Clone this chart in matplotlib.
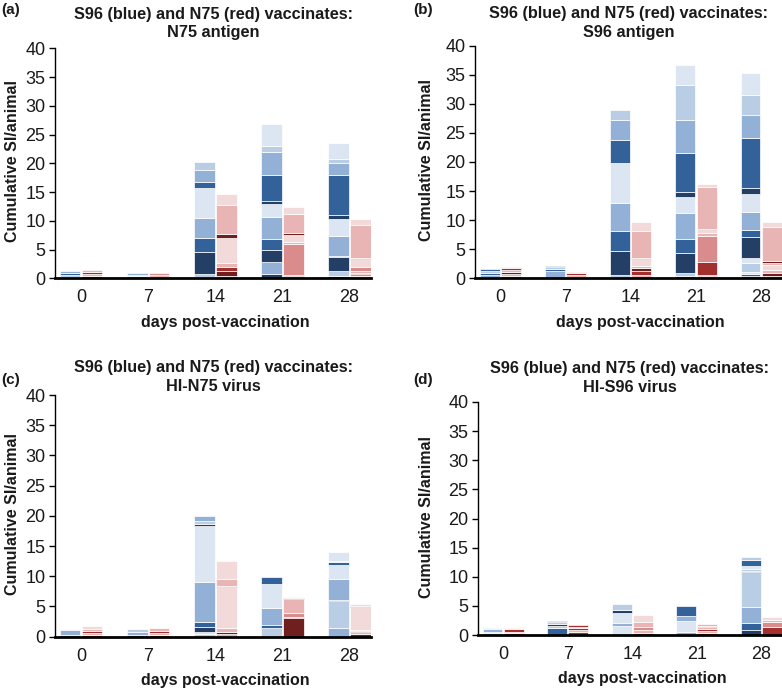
import matplotlib
matplotlib.use("Agg")
import matplotlib.pyplot as plt

plt.rcParams['font.family'] = ['Liberation Sans', 'DejaVu Sans']

days = ["0", "7", "14", "21", "28"]
y_ticks = [0, 5, 10, 15, 20, 25, 30, 35, 40]
panel_labels = ["(a)", "(b)", "(c)", "(d)"]
title_line1 = "S96 (blue) and N75 (red) vaccinates:"
title_line2 = ["N75 antigen", "S96 antigen", "HI-N75 virus", "HI-S96 virus"]
x_label = "days post-vaccination"
y_label = "Cumulative SI/animal"

# segment heights (bottom -> top) per day; shade index 0 = darkest ... 4 = lightest
a_blue = [[0.3, 0.3, 0.3, 0.3], [0.35, 0.3, 0.35],
          [0.3, 0.4, 3.8, 2.5, 3.4, 5.3, 1.1, 2.0, 1.4],
          [0.8, 2.1, 2.1, 1.8, 3.8, 2.4, 0.4, 4.5, 4.0, 1.1, 3.8],
          [0.4, 0.95, 2.35, 0.2, 3.5, 2.9, 0.7, 7.0, 2.0, 0.75, 2.75]]
a_blue_shade = [[1, 3, 1, 2], [2, 3, 2],
                [0, 3, 0, 1, 2, 4, 1, 2, 3],
                [0, 2, 0, 1, 2, 4, 0, 1, 2, 3, 4],
                [0, 3, 0, 1, 2, 4, 0, 1, 2, 3, 4]]
a_red = [[0.4, 0.35, 0.4, 0.35], [0.3, 0.35, 0.35],
         [0.4, 0.9, 0.6, 0.7, 4.4, 0.7, 5.05, 1.95],
         [0.35, 0.25, 5.4, 0.3, 1.3, 0.2, 3.4, 1.15],
         [0.4, 0.35, 0.15, 0.3, 0.7, 1.5, 0.15, 5.75, 1.0]]
a_red_shade = [[1, 3, 1, 3], [2, 3, 2],
               [3, 0, 1, 3, 4, 0, 3, 4],
               [3, 0, 2, 3, 4, 0, 3, 4],
               [3, 2, 0, 3, 2, 4, 0, 3, 4]]

b_blue = [[0.3, 0.35, 0.3, 0.3, 0.3], [1.3, 0.3, 0.3, 0.3],
          [0.6, 4.15, 3.35, 4.8, 7.0, 3.9, 3.4, 1.7],
          [0.4, 0.45, 3.55, 2.3, 4.6, 2.7, 0.8, 6.7, 5.7, 6.1, 3.4],
          [0.4, 0.3, 0.45, 1.45, 0.95, 3.6, 1.15, 3.15, 3.05, 1.1, 8.6, 3.9, 3.5, 3.65]]
b_blue_shade = [[1, 2, 1, 3, 1], [2, 1, 3, 1],
                [3, 0, 1, 2, 4, 1, 2, 3],
                [0, 3, 0, 1, 2, 4, 0, 1, 2, 3, 4],
                [0, 1, 4, 3, 4, 0, 1, 2, 4, 0, 1, 2, 3, 4]]
b_red = [[0.35, 0.35, 0.4, 0.35, 0.3, 0.25], [0.3, 0.3, 0.25, 0.3],
         [0.5, 0.7, 0.6, 0.4, 1.1, 0.2, 4.65, 1.45],
         [0.4, 0.2, 2.25, 4.45, 0.55, 0.5, 0.2, 7.1, 0.55],
         [0.4, 0.45, 0.55, 0.9, 0.4, 0.25, 5.95, 0.7]]
b_red_shade = [[1, 3, 0, 3, 1, 3], [1, 3, 1, 3],
               [3, 1, 0, 3, 4, 0, 3, 4],
               [3, 0, 1, 2, 3, 4, 0, 3, 4],
               [3, 0, 3, 4, 3, 0, 3, 4]]

c_blue = [[0.25, 0.85], [0.3, 0.45, 0.5],
          [0.4, 0.45, 0.7, 0.85, 6.65, 9.25, 0.3, 0.6, 0.7],
          [1.4, 0.55, 2.75, 4.1, 1.1],
          [1.5, 4.45, 0.2, 3.35, 2.4, 0.5, 0.2, 1.4]]
c_blue_shade = [[1, 2], [1, 2, 3],
                [3, 4, 0, 1, 2, 4, 0, 3, 2],
                [3, 1, 2, 4, 1],
                [2, 3, 0, 2, 4, 1, 3, 4]]
c_red = [[0.3, 0.3, 0.3, 0.35, 0.5], [0.3, 0.3, 0.35, 0.45],
         [0.4, 0.35, 0.75, 6.7, 0.25, 1.1, 2.95],
         [3.1, 0.2, 0.55, 2.45, 0.15, 0.15],
         [0.5, 0.25, 0.15, 0.2, 3.85, 0.2, 0.2]]
c_red_shade = [[1, 3, 1, 3, 4], [1, 3, 1, 3],
               [3, 0, 3, 4, 0, 3, 4],
               [0, 1, 2, 3, 0, 4],
               [0, 3, 0, 3, 4, 0, 4]]

d_blue = [[0.3, 0.3, 0.35, 0.3], [1.2, 0.35, 0.3, 0.3, 0.3],
          [1.55, 0.45, 1.8, 0.5, 1.0],
          [0.6, 1.8, 0.8, 1.8],
          [0.85, 1.15, 2.75, 6.05, 0.2, 0.4, 0.45, 0.95, 0.55]]
d_blue_shade = [[2, 3, 2, 3], [1, 3, 0, 3, 1],
                [4, 2, 4, 0, 3],
                [2, 4, 2, 1],
                [0, 1, 2, 3, 0, 3, 4, 1, 3]]
d_red = [[0.3, 0.3, 0.35, 0.3], [0.5, 0.35, 0.3, 0.3, 0.25],
         [0.3, 0.55, 0.6, 0.85, 1.15],
         [0.35, 0.3, 0.35, 0.3, 0.3, 0.25],
         [1.45, 0.75, 0.1, 0.3, 0.45]]
d_red_shade = [[1, 3, 1, 3], [1, 3, 1, 3, 1],
               [1, 3, 2, 3, 4],
               [1, 3, 1, 3, 1, 3],
               [1, 2, 0, 3, 4]]

blue_colors = ['#233F66', '#336199', '#93B1D6', '#B9CDE5', '#DCE6F2']
red_colors = ['#701F1F', '#A3302F', '#DA8C8C', '#E8B4B4', '#F3DADA']

W, H = 782, 692
fig = plt.figure(figsize=(W / 100, H / 100), dpi=100)

# axes boxes in pixels: left, top(y=40), right, bottom(y=0)
boxes = [(55, 48.3, 371, 278.3), (475, 45.7, 782, 278.3),
         (55, 395, 371, 636.7), (478, 402, 782, 635)]
title_base = [37.3, 36.7, 390.7, 391.7]
panels = [(a_blue, a_blue_shade, a_red, a_red_shade),
          (b_blue, b_blue_shade, b_red, b_red_shade),
          (c_blue, c_blue_shade, c_red, c_red_shade),
          (d_blue, d_blue_shade, d_red, d_red_shade)]

bw = 0.305
off = 0.163
txt = '#1a1a1a'
for i, (box, data) in enumerate(zip(boxes, panels)):
    l, t, r, b = box
    ax = fig.add_axes([l / W, 1 - b / H, (r - l) / W, (b - t) / H])
    blue, blue_sh, red, red_sh = data
    for j in range(len(days)):
        for series, shades, cols, dx in ((blue, blue_sh, blue_colors, -off),
                                         (red, red_sh, red_colors, off)):
            bottom = 0
            for v, s in zip(series[j], shades[j]):
                ax.bar(j + dx, v, bw, bottom=bottom, color=cols[s],
                       edgecolor='white', linewidth=0.5)
                bottom += v
    ax.set_xlim(-0.39, 4.32)
    ax.set_ylim(0, 40)
    ax.set_yticks(y_ticks)
    ax.set_xticks(range(len(days)))
    ax.set_xticklabels(days)
    ax.tick_params(axis='x', length=0, labelsize=13, pad=8, labelcolor=txt)
    ax.tick_params(axis='y', length=4, width=1, labelsize=13, pad=3, labelcolor=txt)
    for sp in ('top', 'right'):
        ax.spines[sp].set_visible(False)
    ax.spines['left'].set_linewidth(1.0)
    ax.spines['bottom'].set_linewidth(2.0)
    ax.spines['bottom'].set_zorder(5)
    ax.set_facecolor('none')

    cx = (l + r) / 2
    # titles (two lines)
    tb = title_base[i]
    fig.text(cx / W, 1 - (tb - 18.5) / H, title_line1, ha='center', va='baseline',
             fontsize=11.7, fontweight='bold', color=txt)
    fig.text(cx / W, 1 - tb / H, title_line2[i], ha='center', va='baseline',
             fontsize=11.7, fontweight='bold', color=txt)
    # x label
    fig.text((cx + 12) / W, 1 - (b + 44) / H, x_label, ha='center', va='center',
             fontsize=11.5, fontweight='bold', color=txt)
    # y label
    ylx = 13 if i in (0, 2) else 426
    fig.text(ylx / W, 1 - ((t + b) / 2 - 2) / H, y_label, ha='center', va='center',
             rotation=90, fontsize=11.5, fontweight='bold', color=txt)
    # panel labels
    plx = 1 if i in (0, 2) else 413
    ply = 10 if i < 2 else 380
    fig.text(plx / W, 1 - ply / H, panel_labels[i], ha='left', va='center',
             fontsize=11, fontweight='bold', color=txt)

fig.savefig("out.png", dpi=100)
